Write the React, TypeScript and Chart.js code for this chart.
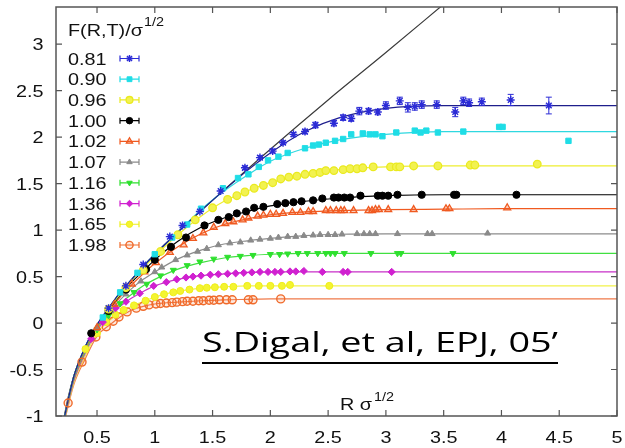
import React, { useEffect, useRef } from "react";
import { Chart, registerables } from "chart.js";
import { drawPoint } from "chart.js/helpers";
Chart.register(...registerables);

// ---------- axis ticks ----------
const xTicks = [0.5, 1, 1.5, 2, 2.5, 3, 3.5, 4, 4.5, 5];
const xTickLabels = ["0.5", "1", "1.5", "2", "2.5", "3", "3.5", "4", "4.5", "5"];
const yTicks = [-1, -0.5, 0, 0.5, 1, 1.5, 2, 2.5, 3];
const yTickLabels = ["-1", "-0.5", "0", "0.5", "1", "1.5", "2", "2.5", "3"];

// ---------- series labels (T/Tc) ----------
const temps = ["0.81", "0.90", "0.96", "1.00", "1.02", "1.07", "1.16", "1.36", "1.65", "1.98"];

// ---------- T=0 potential line ----------
const v0x = [0.2, 0.25, 0.3, 0.4, 0.5, 0.6, 0.8, 1.0, 1.5, 2.0, 2.5, 3.0, 3.5];
const v0y = [-1.11, -0.8, -0.57, -0.25, -0.02, 0.16, 0.47, 0.74, 1.32, 1.87, 2.4, 2.91, 3.43];

// ---------- fit curves ----------
const fitX = [0.2, 0.3, 0.4, 0.5, 0.6, 0.7, 0.8, 0.9, 1.0, 1.2, 1.4, 1.6, 1.8, 2.0, 2.3, 2.6, 3.0, 3.5, 4.0, 5.0];
const fit081 = [-1.11, -0.57, -0.25, -0.02, 0.16, 0.33, 0.47, 0.61, 0.74, 0.98, 1.21, 1.43, 1.64, 1.83, 2.06, 2.21, 2.31, 2.34, 2.34, 2.34];
const fit090 = [-1.11, -0.57, -0.25, -0.02, 0.16, 0.33, 0.47, 0.61, 0.74, 0.98, 1.22, 1.42, 1.59, 1.74, 1.88, 1.97, 2.03, 2.06, 2.06, 2.06];
const fit096 = [-1.11, -0.57, -0.26, -0.03, 0.15, 0.31, 0.46, 0.59, 0.72, 0.95, 1.15, 1.31, 1.42, 1.51, 1.6, 1.65, 1.68, 1.69, 1.69, 1.69];
const fit100 = [-1.11, -0.57, -0.26, -0.03, 0.14, 0.3, 0.44, 0.56, 0.68, 0.88, 1.03, 1.13, 1.2, 1.26, 1.31, 1.345, 1.37, 1.38, 1.38, 1.38];
const fit102 = [-1.11, -0.58, -0.27, -0.04, 0.13, 0.28, 0.41, 0.53, 0.64, 0.82, 0.96, 1.06, 1.12, 1.165, 1.195, 1.21, 1.22, 1.225, 1.23, 1.23];
const fit107 = [-1.12, -0.59, -0.28, -0.05, 0.11, 0.25, 0.37, 0.47, 0.55, 0.69, 0.785, 0.85, 0.885, 0.91, 0.94, 0.955, 0.96, 0.96, 0.96, 0.96];
const fit116 = [-1.12, -0.6, -0.3, -0.06, 0.09, 0.21, 0.31, 0.4, 0.47, 0.58, 0.65, 0.7, 0.725, 0.74, 0.75, 0.75, 0.75, 0.75, 0.75, 0.75];
const fit136 = [-1.13, -0.62, -0.32, -0.08, 0.07, 0.18, 0.27, 0.34, 0.4, 0.47, 0.51, 0.53, 0.545, 0.55, 0.55, 0.55, 0.55, 0.55, 0.55, 0.55];
const fit165 = [-1.14, -0.64, -0.35, -0.11, 0.02, 0.11, 0.18, 0.23, 0.28, 0.34, 0.375, 0.39, 0.4, 0.4, 0.4, 0.4, 0.4, 0.4, 0.4, 0.4];
const fit198 = [-1.15, -0.66, -0.38, -0.14, -0.03, 0.065, 0.14, 0.18, 0.205, 0.225, 0.24, 0.25, 0.255, 0.26, 0.26, 0.26, 0.26, 0.26, 0.26, 0.26];

// ---------- lattice data points ----------
const p081x = [0.6, 0.75, 0.9, 1.13, 1.24, 1.39, 1.57, 1.78, 1.91, 2.02, 2.11, 2.2, 2.3, 2.39, 2.55, 2.63, 2.7, 2.77, 2.85, 2.93, 3.0, 3.12, 3.19, 3.25, 3.31, 3.44, 3.6, 3.67, 3.72, 3.83, 4.08, 4.41];
const p081y = [0.16, 0.4, 0.63, 0.93, 1.05, 1.2, 1.42, 1.67, 1.78, 1.85, 1.94, 2.03, 2.06, 2.13, 2.15, 2.21, 2.2, 2.28, 2.28, 2.27, 2.34, 2.39, 2.32, 2.33, 2.35, 2.35, 2.27, 2.39, 2.37, 2.38, 2.4, 2.34];
const e081 = [0.01, 0.01, 0.01, 0.01, 0.01, 0.01, 0.015, 0.02, 0.02, 0.02, 0.02, 0.02, 0.025, 0.03, 0.03, 0.03, 0.03, 0.04, 0.03, 0.03, 0.04, 0.04, 0.05, 0.04, 0.04, 0.04, 0.05, 0.04, 0.04, 0.04, 0.06, 0.09];

const p090x = [0.55, 0.7, 0.85, 1.0, 1.15, 1.28, 1.4, 1.59, 1.72, 1.81, 1.9, 1.98, 2.07, 2.15, 2.3, 2.37, 2.42, 2.48, 2.56, 2.63, 2.7, 2.8, 2.86, 2.91, 2.97, 3.09, 3.25, 3.3, 3.35, 3.45, 3.67, 3.98, 4.01, 4.58];
const p090y = [0.06, 0.33, 0.54, 0.74, 0.92, 1.06, 1.23, 1.45, 1.56, 1.6, 1.68, 1.75, 1.79, 1.83, 1.88, 1.91, 1.92, 1.94, 1.96, 1.98, 2.03, 2.04, 2.03, 2.03, 2.01, 2.05, 2.07, 2.05, 2.07, 2.05, 2.06, 2.11, 2.11, 1.96];

const p096x = [0.6, 0.75, 0.9, 1.05, 1.2, 1.35, 1.5, 1.63, 1.71, 1.78, 1.86, 1.94, 2.02, 2.09, 2.16, 2.23, 2.3, 2.37, 2.43, 2.48, 2.55, 2.63, 2.69, 2.75, 2.8, 2.89, 3.04, 3.09, 3.12, 3.24, 3.45, 3.73, 3.77, 4.31];
const p096y = [0.15, 0.38, 0.57, 0.77, 0.95, 1.11, 1.24, 1.33, 1.37, 1.41, 1.45, 1.48, 1.51, 1.55, 1.57, 1.58, 1.6, 1.61, 1.62, 1.64, 1.64, 1.65, 1.66, 1.66, 1.67, 1.68, 1.68, 1.68, 1.68, 1.69, 1.69, 1.7, 1.7, 1.71];

const p100x = [0.45, 0.6, 0.75, 0.925, 1.0, 1.14, 1.27, 1.43, 1.55, 1.64, 1.71, 1.79, 1.86, 1.94, 2.06, 2.13, 2.2, 2.27, 2.37, 2.45, 2.55, 2.59, 2.64, 2.69, 2.78, 2.93, 2.97, 3.02, 3.1, 3.31, 3.59, 3.61, 4.13];
const p100y = [-0.11, 0.13, 0.36, 0.58, 0.68, 0.82, 0.92, 1.05, 1.11, 1.14, 1.18, 1.2, 1.24, 1.25, 1.28, 1.29, 1.3, 1.31, 1.32, 1.34, 1.35, 1.35, 1.35, 1.35, 1.37, 1.37, 1.37, 1.37, 1.38, 1.38, 1.38, 1.38, 1.38];

const p102x = [0.5, 0.65, 0.8, 0.91, 1.01, 1.13, 1.25, 1.33, 1.42, 1.51, 1.61, 1.68, 1.76, 1.81, 1.89, 1.94, 2.0, 2.05, 2.11, 2.19, 2.26, 2.33, 2.37, 2.48, 2.52, 2.57, 2.61, 2.64, 2.72, 2.85, 2.88, 2.91, 2.94, 3.02, 3.24, 3.52, 3.55, 4.05];
const p102y = [-0.05, 0.2, 0.42, 0.55, 0.65, 0.76, 0.84, 0.91, 0.97, 1.03, 1.07, 1.09, 1.11, 1.13, 1.15, 1.16, 1.17, 1.17, 1.18, 1.19, 1.19, 1.2, 1.2, 1.21, 1.21, 1.21, 1.21, 1.21, 1.21, 1.21, 1.21, 1.22, 1.22, 1.22, 1.22, 1.23, 1.23, 1.24];

const p107x = [0.5, 0.62, 0.75, 0.88, 1.0, 1.06, 1.18, 1.28, 1.37, 1.45, 1.55, 1.65, 1.74, 1.83, 1.91, 2.0, 2.07, 2.15, 2.22, 2.29, 2.37, 2.43, 2.5, 2.56, 2.62, 2.75, 2.81, 2.86, 2.91, 3.1, 3.36, 3.4, 3.88];
const p107y = [-0.06, 0.13, 0.31, 0.45, 0.55, 0.6, 0.68, 0.73, 0.77, 0.8, 0.84, 0.86, 0.87, 0.89, 0.9, 0.91, 0.92, 0.93, 0.93, 0.94, 0.945, 0.95, 0.95, 0.95, 0.955, 0.96, 0.96, 0.96, 0.96, 0.96, 0.96, 0.96, 0.965];

const p116x = [0.5, 0.6, 0.7, 0.82, 0.93, 1.05, 1.16, 1.28, 1.39, 1.51, 1.63, 1.74, 1.85, 2.0, 2.08, 2.15, 2.24, 2.32, 2.41, 2.48, 2.52, 2.56, 2.64, 2.87, 3.1, 3.13, 3.58];
const p116y = [-0.07, 0.08, 0.21, 0.33, 0.42, 0.51, 0.57, 0.62, 0.66, 0.69, 0.71, 0.72, 0.73, 0.74, 0.74, 0.745, 0.75, 0.75, 0.75, 0.75, 0.75, 0.75, 0.75, 0.75, 0.75, 0.75, 0.75];

const p136x = [0.45, 0.55, 0.66, 0.75, 0.87, 0.99, 1.1, 1.19, 1.27, 1.33, 1.4, 1.48, 1.55, 1.63, 1.7, 1.77, 1.84, 1.91, 1.98, 2.04, 2.09, 2.17, 2.22, 2.29, 2.45, 2.63, 2.67, 3.05];
const p136y = [-0.17, 0.01, 0.16, 0.23, 0.32, 0.4, 0.44, 0.47, 0.49, 0.5, 0.51, 0.52, 0.525, 0.53, 0.535, 0.54, 0.545, 0.55, 0.55, 0.55, 0.55, 0.555, 0.555, 0.56, 0.55, 0.55, 0.55, 0.55];

const p165x = [0.4, 0.5, 0.58, 0.66, 0.73, 0.82, 0.92, 1.0, 1.08, 1.16, 1.22, 1.3, 1.39, 1.45, 1.52, 1.6, 1.68, 1.8, 1.9, 2.0, 2.1, 2.17, 2.51];
const p165y = [-0.28, -0.11, 0.01, 0.09, 0.14, 0.19, 0.24, 0.28, 0.31, 0.33, 0.345, 0.36, 0.375, 0.38, 0.385, 0.39, 0.39, 0.4, 0.4, 0.4, 0.4, 0.41, 0.4];

const p198x = [0.25, 0.37, 0.49, 0.58, 0.64, 0.69, 0.76, 0.84, 0.9, 0.95, 1.01, 1.05, 1.1, 1.15, 1.19, 1.24, 1.28, 1.33, 1.38, 1.42, 1.47, 1.51, 1.56, 1.62, 1.67, 1.81, 1.85, 2.09];
const p198y = [-0.86, -0.42, -0.15, -0.04, 0.02, 0.065, 0.12, 0.16, 0.18, 0.195, 0.205, 0.21, 0.215, 0.22, 0.225, 0.23, 0.235, 0.235, 0.24, 0.24, 0.245, 0.245, 0.25, 0.25, 0.25, 0.25, 0.25, 0.26];

const pointXs = [p081x, p090x, p096x, p100x, p102x, p107x, p116x, p136x, p165x, p198x];
const pointYs = [p081y, p090y, p096y, p100y, p102y, p107y, p116y, p136y, p165y, p198y];
const fitYs = [fit081, fit090, fit096, fit100, fit102, fit107, fit116, fit136, fit165, fit198];

// ---------- styles ----------
const styles = [
  { ps: "star", r: 4, rot: 0, color: "#2b2bd6", fill: "#2b2bd6", line: "#1e1e8c", bw: 1.4 },
  { ps: "rect", r: 3.8, rot: 0, color: "#1fdde6", fill: "#1fdde6", line: "#2fd8e0", bw: 1 },
  { ps: "circle", r: 3.8, rot: 0, color: "#eaea20", fill: "#f2f250", line: "#eeee30", bw: 1.3 },
  { ps: "circle", r: 3.6, rot: 0, color: "#000000", fill: "#000000", line: "#000000", bw: 1 },
  { ps: "triangle", r: 4, rot: 0, color: "#f05a20", fill: "rgba(240,90,32,0.3)", line: "#f05a20", bw: 1.3 },
  { ps: "triangle", r: 3.5, rot: 0, color: "#8a8a8a", fill: "#8a8a8a", line: "#8c8c8c", bw: 1 },
  { ps: "triangle", r: 3.5, rot: 180, color: "#2ee02e", fill: "#2ee02e", line: "#40e040", bw: 1 },
  { ps: "rectRot", r: 3.6, rot: 0, color: "#d020d0", fill: "#d020d0", line: "#c830c8", bw: 1 },
  { ps: "circle", r: 3.5, rot: 0, color: "#eeee18", fill: "#f4f430", line: "#f2f24a", bw: 1 },
  { ps: "circle", r: 4, rot: 0, color: "#f06a2a", fill: "rgba(240,106,42,0.15)", line: "#f07a4a", bw: 1.4 },
];

const SX = 1.2; // horizontal stretch of the source image text
const FONT = "16.5px 'Liberation Sans', Arial, sans-serif";
const SUPFONT = "12px 'Liberation Sans', Arial, sans-serif";
const CITE_FONT = "28px 'Open Sans', Lato, sans-serif";

function drawText(ctx: CanvasRenderingContext2D, text: string, x: number, y: number, align: string, font: string, sx: number) {
  ctx.save();
  ctx.font = font;
  ctx.textAlign = "left";
  ctx.textBaseline = "alphabetic";
  const w = ctx.measureText(text).width * sx;
  const x0 = align === "right" ? x - w : align === "center" ? x - w / 2 : x;
  ctx.translate(x0, y);
  ctx.scale(sx, 1);
  ctx.fillText(text, 0, 0);
  ctx.restore();
  return w;
}

const framePlugin = {
  id: "frame",
  afterDatasetsDraw(chart: any) {
    const ctx = chart.ctx as CanvasRenderingContext2D;
    const ca = chart.chartArea;
    const xs = chart.scales.x;
    const ys = chart.scales.y;
    // error bars for the 0.81 series
    const meta = chart.getDatasetMeta(11);
    ctx.save();
    ctx.beginPath();
    ctx.rect(ca.left, ca.top, ca.right - ca.left, ca.bottom - ca.top);
    ctx.clip();
    ctx.strokeStyle = styles[0].color;
    ctx.lineWidth = 1;
    meta.data.forEach((el: any, i: number) => {
      const e = e081[i];
      const yt = ys.getPixelForValue(p081y[i] + e);
      const yb = ys.getPixelForValue(p081y[i] - e);
      if (yb - yt < 3) return;
      ctx.beginPath();
      ctx.moveTo(el.x, yt); ctx.lineTo(el.x, yb);
      ctx.moveTo(el.x - 3, yt); ctx.lineTo(el.x + 3, yt);
      ctx.moveTo(el.x - 3, yb); ctx.lineTo(el.x + 3, yb);
      ctx.stroke();
    });
    ctx.restore();

    // border
    ctx.save();
    ctx.strokeStyle = "#555";
    ctx.lineWidth = 1.5;
    ctx.strokeRect(ca.left, ca.top, ca.right - ca.left, ca.bottom - ca.top);
    // inward ticks
    ctx.lineWidth = 1.2;
    const TL = 6;
    xTicks.forEach((v) => {
      const px = xs.getPixelForValue(v);
      ctx.beginPath();
      ctx.moveTo(px, ca.bottom); ctx.lineTo(px, ca.bottom - TL);
      ctx.moveTo(px, ca.top); ctx.lineTo(px, ca.top + TL);
      ctx.stroke();
    });
    yTicks.forEach((v) => {
      const py = ys.getPixelForValue(v);
      ctx.beginPath();
      ctx.moveTo(ca.left, py); ctx.lineTo(ca.left + TL, py);
      ctx.moveTo(ca.right, py); ctx.lineTo(ca.right - TL, py);
      ctx.stroke();
    });
    ctx.restore();

    // tick labels
    ctx.save();
    ctx.fillStyle = "#111";
    xTicks.forEach((v, i) => {
      drawText(ctx, xTickLabels[i], xs.getPixelForValue(v), 443, "center", FONT, SX);
    });
    yTicks.forEach((v, i) => {
      drawText(ctx, yTickLabels[i], 43.5, ys.getPixelForValue(v) + 6, "right", FONT, SX);
    });

    // axis label R sigma^{1/2}
    const w1 = drawText(ctx, "R σ", 340, 410, "left", FONT, SX);
    drawText(ctx, "1/2", 340 + w1 + 2, 401, "left", SUPFONT, SX);

    // legend title
    const wt = drawText(ctx, "F(R,T)/σ", 68, 36, "left", FONT, SX);
    drawText(ctx, "1/2", 68 + wt + 1, 26, "left", SUPFONT, SX);

    // legend entries
    temps.forEach((t, i) => {
      const cy = 58.5 + i * 20.72;
      ctx.fillStyle = "#111";
      drawText(ctx, t, 68, cy + 6, "left", FONT, SX);
      const st = styles[i];
      ctx.strokeStyle = st.color;
      ctx.lineWidth = 1.2;
      ctx.beginPath();
      ctx.moveTo(120, cy); ctx.lineTo(139, cy);
      ctx.moveTo(120, cy - 3); ctx.lineTo(120, cy + 3);
      ctx.moveTo(139, cy - 3); ctx.lineTo(139, cy + 3);
      ctx.stroke();
      ctx.fillStyle = st.fill;
      ctx.strokeStyle = st.color;
      ctx.lineWidth = st.bw;
      drawPoint(ctx, { pointStyle: st.ps, rotation: st.rot, radius: st.r * 0.9, borderWidth: st.bw } as any, 129.5, cy);
    });

    // citation annotation
    ctx.fillStyle = "#000";
    const cite = "S.Digal, et al, EPJ, 05’";
    ctx.font = CITE_FONT;
    const mw = ctx.measureText(cite).width;
    const csx = 356 / mw;
    drawText(ctx, cite, 202, 352, "left", CITE_FONT, csx);
    ctx.fillRect(202, 362, 356, 2);
    ctx.restore();
  },
};

export default function App() {
  const ref = useRef<HTMLCanvasElement | null>(null);
  useEffect(() => {
    if (!ref.current) return;
    const datasets: any[] = [];
    // T=0 line (index 0)
    datasets.push({
      label: "T=0",
      data: v0x.map((x, i) => ({ x, y: v0y[i] })),
      showLine: true,
      borderColor: "#3a3a3a",
      borderWidth: 1.2,
      pointRadius: 0,
      cubicInterpolationMode: "monotone",
      order: 3,
    });
    // fit lines (indices 1..10)
    temps.forEach((t, k) => {
      datasets.push({
        label: "fit " + t,
        data: fitX.map((x, i) => ({ x, y: fitYs[k][i] })),
        showLine: true,
        borderColor: styles[k].line,
        borderWidth: 1.2,
        pointRadius: 0,
        cubicInterpolationMode: "monotone",
        order: 2,
      });
    });
    // data points (indices 11..20)
    temps.forEach((t, k) => {
      const st = styles[k];
      datasets.push({
        label: t,
        data: pointXs[k].map((x, i) => ({ x, y: pointYs[k][i] })),
        showLine: false,
        pointStyle: st.ps,
        pointRotation: st.rot,
        pointRadius: st.r,
        pointBorderWidth: st.bw,
        pointBorderColor: st.color,
        pointBackgroundColor: st.fill,
        order: 1,
      });
    });
    const chart = new Chart(ref.current, {
      type: "scatter",
      data: { datasets },
      options: {
        responsive: false,
        animation: false,
        devicePixelRatio: 1,
        layout: { padding: { left: 56, top: 7, right: 8, bottom: 32 } },
        scales: {
          x: { type: "linear", min: 0.145, max: 5, display: false },
          y: { type: "linear", min: -1, max: 3.4, display: false },
        },
        plugins: { legend: { display: false }, tooltip: { enabled: false } },
      },
      plugins: [framePlugin],
    } as any);
    return () => chart.destroy();
  }, []);
  return (
    <div style={{ position: "absolute", left: 0, top: 0, width: 625, height: 448, background: "#fff" }}>
      <canvas ref={ref} width={625} height={448} style={{ display: "block" }} />
    </div>
  );
}
